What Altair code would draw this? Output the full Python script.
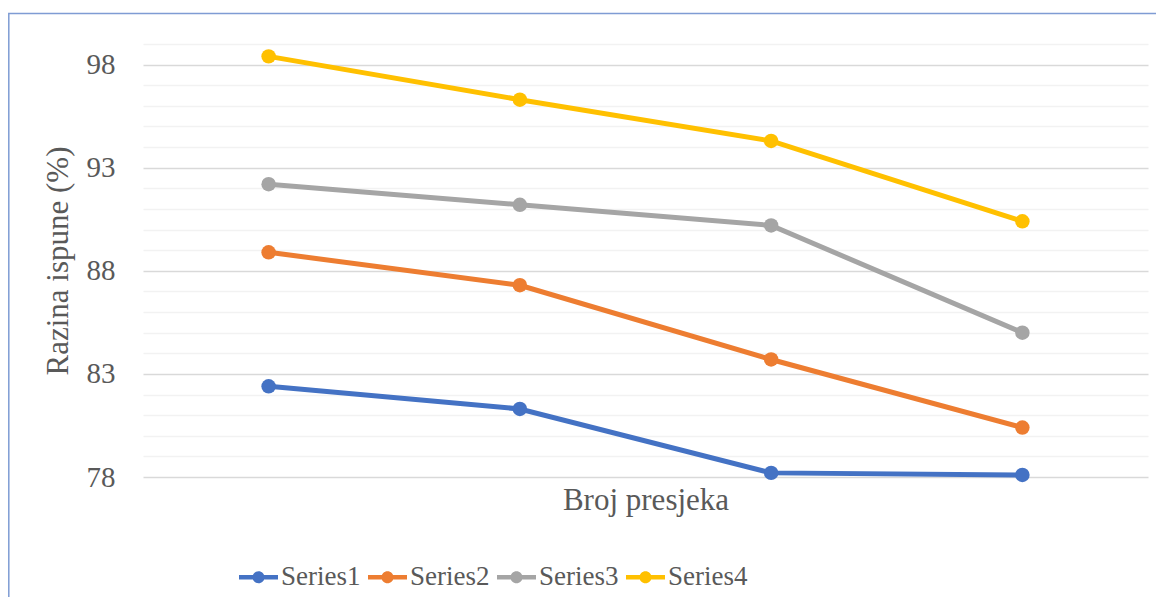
import altair as alt
import pandas as pd

categories = ["1", "2", "3", "4"]
series_names = ["Series1", "Series2", "Series3", "Series4"]
series1 = [82.4, 81.3, 78.2, 78.1]
series2 = [88.9, 87.3, 83.7, 80.4]
series3 = [92.2, 91.2, 90.2, 85.0]
series4 = [98.4, 96.3, 94.3, 90.4]
colors = ["#4472C4", "#ED7D31", "#A5A5A5", "#FFC000"]
y_ticks = list(range(78, 100))

rows = []
for name, vals in zip(series_names, [series1, series2, series3, series4]):
    for c, v in zip(categories, vals):
        rows.append({"cat": c, "series": name, "value": v})
df = pd.DataFrame(rows)

FONT = "Liberation Serif"
TXT = "#595959"

x_enc = alt.X("cat:O", sort=categories,
              scale=alt.Scale(type="point", padding=0.5),
              axis=alt.Axis(title="Broj presjeka", labels=False, ticks=False, domain=False,
                            grid=False, titleFont=FONT, titleFontSize=31,
                            titleFontWeight="normal", titleColor=TXT, titlePadding=8))
y_enc = alt.Y("value:Q",
              scale=alt.Scale(domain=[78, 99], nice=False, zero=False),
              axis=alt.Axis(title="Razina ispune (%)", values=y_ticks,
                            labelExpr="(datum.value - 78) % 5 == 0 ? datum.label : ''",
                            domain=False, ticks=False, labelFont=FONT, labelFontSize=29,
                            labelColor=TXT, labelPadding=28, titleFont=FONT,
                            titleFontSize=31, titleFontWeight="normal", titleColor=TXT,
                            titlePadding=12,
                            gridColor={"condition": {"test": "(datum.value - 78) % 5 == 0",
                                                     "value": "#D9D9D9"},
                                       "value": "#F2F2F2"},
                            gridWidth=1.4))

sym_path = ("M -1 -0.11 L -0.28 -0.11 L -0.28 0.11 L -1 0.11 Z "
            "M 0.28 -0.11 L 1 -0.11 L 1 0.11 L 0.28 0.11 Z "
            "M 0.31 0 A 0.31 0.31 0 1 1 -0.31 0 A 0.31 0.31 0 1 1 0.31 0 Z")

color_scale = alt.Scale(domain=series_names, range=colors)

lines = alt.Chart(df).mark_line(strokeWidth=5).encode(
    x=x_enc, y=y_enc,
    color=alt.Color("series:N", scale=color_scale, legend=None),
    detail="series:N",
)

points = alt.Chart(df).mark_point(filled=True, size=210, opacity=1).encode(
    x=x_enc, y=y_enc,
    color=alt.Color("series:N", scale=color_scale,
                    legend=alt.Legend(title=None, orient="none", legendX=96, legendY=513.5,
                                      direction="horizontal", columns=4,
                                      symbolType=sym_path, symbolSize=1521,
                                      symbolStrokeWidth=0, symbolOpacity=1,
                                      labelFont=FONT, labelFontSize=27, labelColor=TXT,
                                      labelOffset=3, columnPadding=7)),
)

border = alt.Chart(pd.DataFrame({"a": [0]})).mark_rect(
    fill=None, stroke="#7F9CD4", strokeWidth=1.5
).encode(x=alt.value(-134.2), x2=alt.value(1300), y=alt.value(-30.5), y2=alt.value(800))

chart = alt.layer(border, lines, points).resolve_legend(color="independent").properties(
    width=1005, height=433,
    padding={"left": 135, "top": 36, "right": 8, "bottom": 120},
    autosize=alt.AutoSizeParams(type="none"),
    background="white",
).configure_view(stroke=None)

chart.save("out.html", embed_options={"renderer": "svg", "actions": False})
